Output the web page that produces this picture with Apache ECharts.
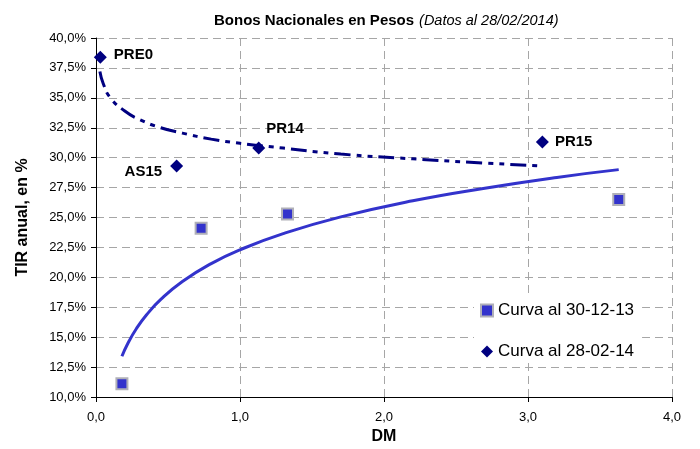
<!DOCTYPE html>
<html>
<head>
<meta charset="utf-8">
<script src="https://cdn.jsdelivr.net/npm/echarts@6/dist/echarts.min.js"></script>
<style>
html,body{margin:0;padding:0;background:#fff;}
#chart{width:700px;height:449px;}
</style>
</head>
<body>
<div id="chart"></div>
<script>
// Curva al 30-12-13 (DM, TIR)
var dec13Dm  = [0.18, 0.73, 1.33, 3.63];
var dec13Tir = [11.1, 24.1, 25.3, 26.5];

// Curva al 28-02-14
var feb14Names = ['PRE0', 'AS15', 'PR14', 'PR15'];
var feb14Dm    = [0.03, 0.56, 1.13, 3.10];
var feb14Tir   = [38.4, 29.3, 30.8, 31.3];

// tendencias
var trendDecDm  = [0.18, 0.22, 0.28, 0.35, 0.45, 0.6, 0.8, 1.0, 1.3, 1.7, 2.2, 2.7, 3.2, 3.63];
var trendDecTir = [13.4, 14.45, 15.7, 16.85, 18.15, 19.65, 21.15, 22.3, 23.65, 25.05, 26.4, 27.45, 28.35, 29.0];
var trendFebDm  = [0.027, 0.05, 0.1, 0.2, 0.3, 0.45, 0.6, 0.8, 1.0, 1.3, 1.7, 2.2, 2.7, 3.1];
var trendFebTir = [37.2, 36.2, 35.0, 33.9, 33.2, 32.5, 32.05, 31.55, 31.2, 30.8, 30.3, 29.9, 29.55, 29.3];

var font = '"Liberation Sans", Arial, sans-serif';

function pairs(xs, ys){
    var out = [];
    for (var i = 0; i < xs.length; i++) out.push([xs[i], ys[i]]);
    return out;
}

var labelPos = {
    'PRE0': {position: 'right', distance: 7, offset: [0, -2]},
    'AS15': {position: 'left', distance: 8, offset: [0, 6]},
    'PR14': {position: 'right', distance: 1, offset: [0, -19]},
    'PR15': {position: 'right', distance: 6, offset: [0, 0]}
};

var febData = [];
for (var i = 0; i < feb14Names.length; i++) {
    var lp = labelPos[feb14Names[i]];
    febData.push({
        name: feb14Names[i],
        value: [feb14Dm[i], feb14Tir[i]],
        label: {position: lp.position, distance: lp.distance, offset: lp.offset}
    });
}

var chart = echarts.init(document.getElementById('chart'));

var option = {
    animation: false,
    textStyle: {fontFamily: font},
    title: {
        text: '{b|Bonos Nacionales en Pesos} {i|(Datos al 28/02/2014)}',
        left: 209,
        top: 7,
        textStyle: {
            fontWeight: 'normal',
            rich: {
                b: {fontSize: 15, fontWeight: 'bold', color: '#000', fontFamily: font},
                i: {fontSize: 14.5, fontStyle: 'italic', fontWeight: 'normal', color: '#000', fontFamily: font}
            }
        }
    },
    legend: {
        orient: 'vertical',
        left: 474,
        top: 294,
        padding: [8, 8, 0, 6],
        itemGap: 24,
        itemWidth: 12,
        itemHeight: 12,
        backgroundColor: '#fff',
        textStyle: {fontSize: 17, color: '#000', fontFamily: font},
        data: [
            {name: 'Curva al 30-12-13', icon: 'rect'},
            {name: 'Curva al 28-02-14', icon: 'diamond'}
        ]
    },
    grid: {left: 96, right: 28, top: 38, bottom: 52, containLabel: false, outerBoundsMode: 'none'},
    xAxis: {
        type: 'value',
        min: 0,
        max: 4,
        interval: 1,
        name: 'DM',
        nameLocation: 'middle',
        nameGap: 31,
        nameTextStyle: {fontSize: 16, fontWeight: 'bold', color: '#000', fontFamily: font},
        axisLine: {show: true, lineStyle: {color: '#000', width: 1}},
        axisTick: {show: true, length: 5, lineStyle: {color: '#000'}},
        axisLabel: {
            fontSize: 13, color: '#000', margin: 14, fontFamily: font,
            formatter: function(v){ return v.toFixed(1).replace('.', ','); }
        },
        splitLine: {show: true, lineStyle: {color: '#a6a6a6', type: [8, 5], width: 1}}
    },
    yAxis: {
        type: 'value',
        min: 10,
        max: 40,
        interval: 2.5,
        name: 'TIR anual, en %',
        nameLocation: 'middle',
        nameGap: 65,
        nameRotate: 90,
        nameTextStyle: {fontSize: 16, fontWeight: 'bold', color: '#000', fontFamily: font},
        axisLine: {show: true, lineStyle: {color: '#000', width: 1}},
        axisTick: {show: true, length: 5, lineStyle: {color: '#000'}},
        axisLabel: {
            fontSize: 13, color: '#000', margin: 10, fontFamily: font,
            formatter: function(v){ return v.toFixed(1).replace('.', ',') + '%'; }
        },
        splitLine: {show: true, lineStyle: {color: '#a6a6a6', type: [8, 5], width: 1}}
    },
    series: [
        {
            name: 'tendencia 30-12-13',
            type: 'line',
            data: pairs(trendDecDm, trendDecTir),
            smooth: true,
            showSymbol: false,
            silent: true,
            z: 2,
            lineStyle: {color: '#3333cc', width: 3}
        },
        {
            name: 'tendencia 28-02-14',
            type: 'line',
            data: pairs(trendFebDm, trendFebTir),
            smooth: true,
            showSymbol: false,
            silent: true,
            z: 2,
            lineStyle: {color: '#000080', width: 3, type: [16, 6, 5, 6, 5, 6]}
        },
        {
            name: 'Curva al 30-12-13',
            type: 'scatter',
            data: pairs(dec13Dm, dec13Tir),
            symbol: 'rect',
            symbolSize: 11,
            z: 3,
            itemStyle: {color: '#3333cc', borderColor: '#b0b0b8', borderWidth: 2, opacity: 1}
        },
        {
            name: 'Curva al 28-02-14',
            type: 'scatter',
            data: febData,
            symbol: 'diamond',
            symbolSize: 13,
            z: 3,
            itemStyle: {color: '#000080', opacity: 1},
            label: {
                show: true,
                formatter: '{b}',
                fontSize: 15,
                fontWeight: 'bold',
                color: '#000',
                fontFamily: font
            }
        }
    ]
};

chart.setOption(option);
</script>
</body>
</html>
